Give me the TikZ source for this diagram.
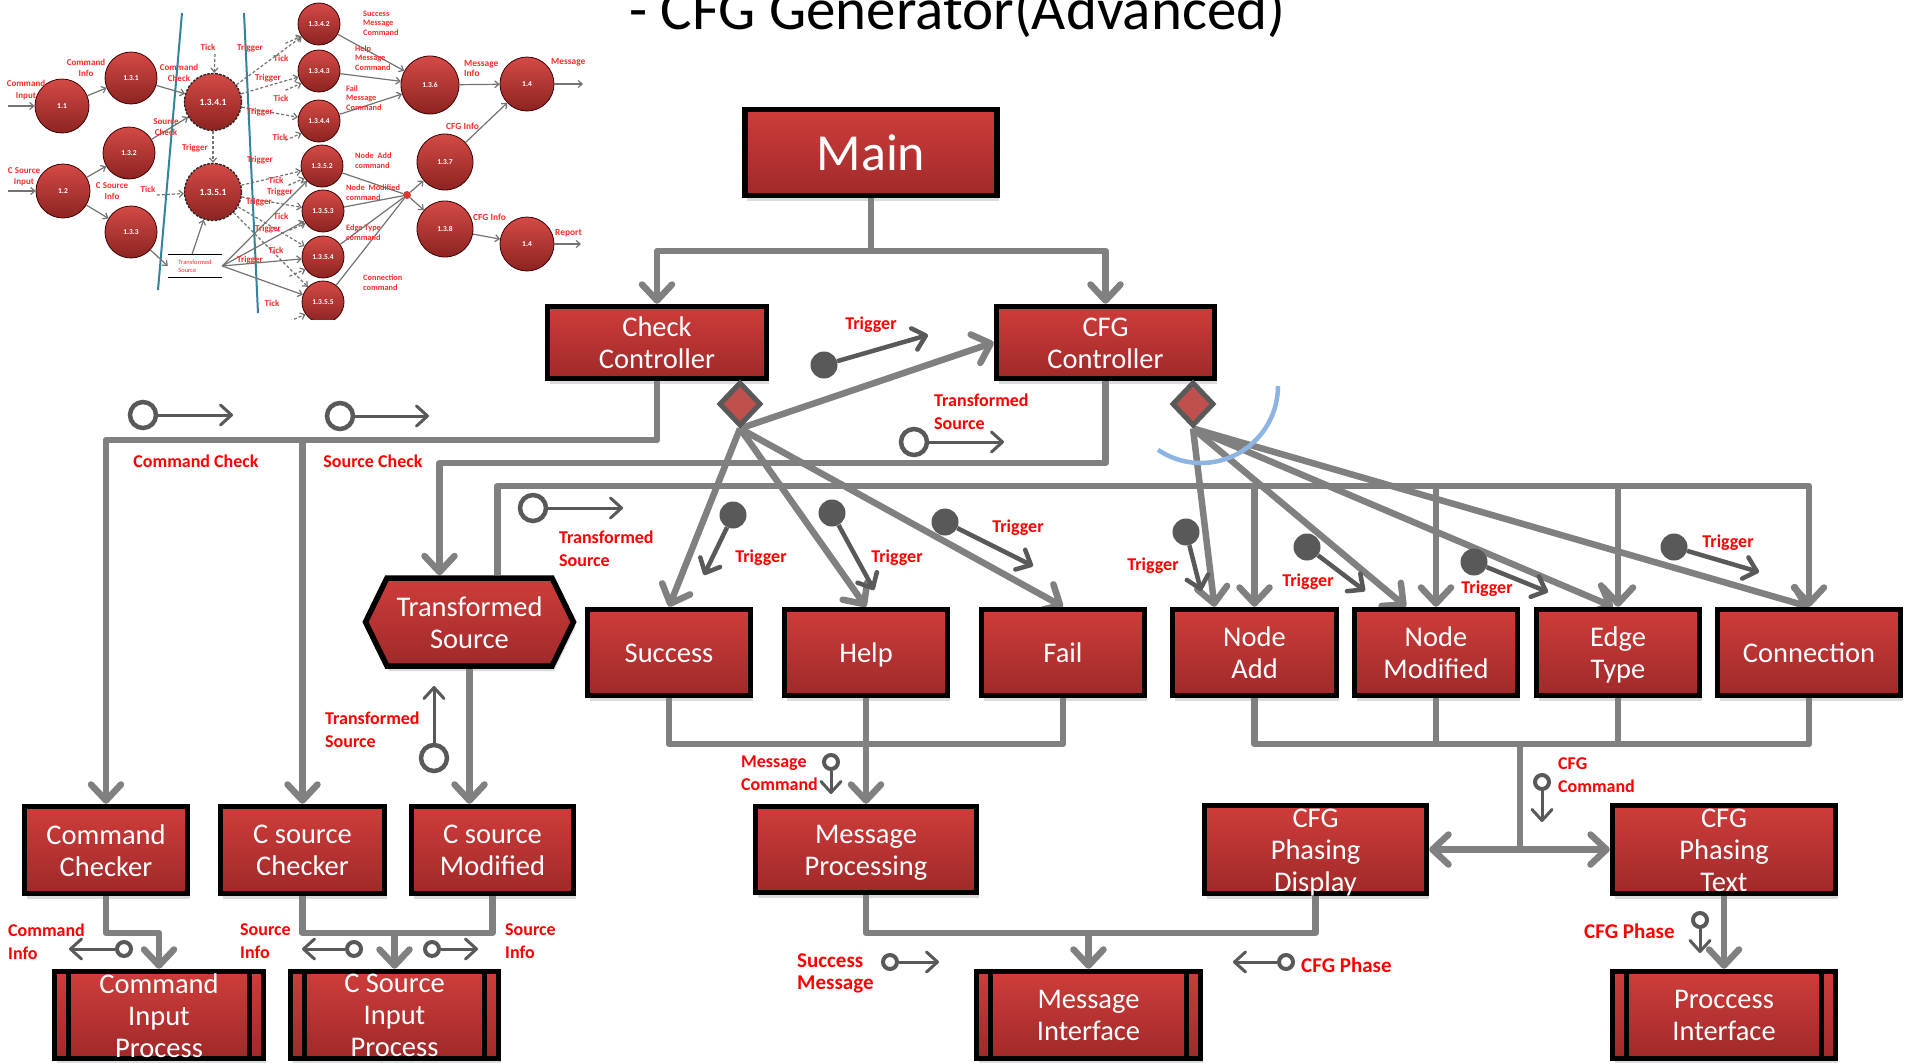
\documentclass[tikz,border=0pt]{standalone}
\usepackage{fontspec}
\setmainfont{Carlito}
\usetikzlibrary{arrows.meta,shapes.geometric,shapes.symbols,shadows}
\pgfdeclarelayer{background}
\pgfsetlayers{background,main}

\definecolor{boxtop}{HTML}{CE3D3A}
\definecolor{boxbot}{HTML}{A0292A}
\definecolor{linegray}{HTML}{808080}
\definecolor{flowgray}{HTML}{595959}
\definecolor{lblred}{HTML}{FF0000}
\definecolor{dmdfill}{HTML}{C0504D}
\definecolor{arcblue}{HTML}{8DB4E2}
\definecolor{insetteal}{HTML}{31849B}
\definecolor{insetred}{HTML}{FF2B2B}
\definecolor{balltop}{HTML}{D44A46}
\definecolor{ballbot}{HTML}{8C2321}

\tikzset{
  box/.style={draw=black, line width=5.5pt, top color=boxtop, bottom color=boxbot, inner sep=0pt,
    drop shadow={opacity=0.28, shadow xshift=2pt, shadow yshift=-5pt}},
  btxtbase/.style={text=white, font=\fontsize{28.5}{32}\selectfont, align=center, inner sep=0pt},
  % every box caption gets the same depth, so lines sit alike with or without descenders
  btxt/.style={btxtbase, execute at end node={\vphantom{g}}, yshift=-3pt},
  conn/.style={draw=linegray, line width=6.5pt, line join=round},
  arr/.style={-{Straight Barb[length=16pt,width=30pt,round]}},
  dmd/.style={diamond, draw=flowgray, line width=5pt, fill=dmdfill, minimum width=42pt, minimum height=44pt, inner sep=0pt},
  ocirc/.style={circle, draw=flowgray, line width=4.5pt, fill=white, minimum size=26pt, inner sep=0pt},
  scirc/.style={circle, draw=flowgray, line width=4pt, fill=white, minimum size=14pt, inner sep=0pt},
  fcirc/.style={circle, fill=flowgray, minimum size=27pt, inner sep=0pt},
  flow/.style={draw=flowgray, line width=3pt, -{Straight Barb[length=11pt,width=20pt,round]}},
  flowt/.style={draw=flowgray, line width=4.5pt, -{Straight Barb[length=12pt,width=22pt,round]}},
  lbl/.style={text=lblred, font=\bfseries\fontsize{18}{23}\selectfont, inner sep=0pt, align=left},
  lblbig/.style={lbl, font=\bfseries\fontsize{21}{22}\selectfont},
  % small data-flow sketch
  ic/.style={circle, draw=black!75!red, line width=0.8pt, top color=balltop, bottom color=ballbot,
    text=white, font=\bfseries\fontsize{7.5}{8}\selectfont, inner sep=0pt},
  icd/.style={ic, draw=black!85, line width=1.4pt, dash pattern=on 2.5pt off 1.5pt, font=\bfseries\fontsize{9.5}{10}\selectfont},
  ia/.style={draw=black!55, line width=1.2pt, -{Straight Barb[length=4pt,width=7pt]}},
  iad/.style={ia, dash pattern=on 3pt off 2pt},
  ipl/.style={draw=black!55, line width=1.2pt},
  ilbl/.style={text=insetred, font=\bfseries\fontsize{9}{11.5}\selectfont, inner sep=0pt, align=center},
  irl/.style={text=insetred, font=\bfseries\fontsize{8.3}{9.4}\selectfont, inner sep=0pt, align=left, anchor=west},
}

\begin{document}
\begin{tikzpicture}[x=1pt, y=-1pt]
\useasboundingbox (0,0) rectangle (1907,1063);
\begin{pgfonlayer}{background}
  \fill[white] (0,0) rectangle (1907,1063);
\end{pgfonlayer}

% ---------- title ----------
\node[anchor=base west, font=\fontsize{59}{60}\selectfont, inner sep=0pt] (title) at (629,29) {- CFG Generator(Advanced)};

% ---------- small data-flow sketch ----------
\begin{scope}
  \clip (0,0) rectangle (592,319);
  \draw[insetteal, line width=2pt] (182,13) -- (158,290);
  \draw[insetteal, line width=2pt] (244,13) -- (258,313);

  \node[ic, minimum size=54pt] (c11) at (62,106) {1.1};
  \node[ic, minimum size=52pt] (c131) at (131,78) {1.3.1};
  \node[ic, minimum size=52pt] (c132) at (129,153) {1.3.2};
  \node[ic, minimum size=54pt] (c12) at (63,191) {1.2};
  \node[ic, minimum size=52pt] (c133) at (131,232) {1.3.3};
  \node[icd, minimum size=57pt] (c1341) at (213,102) {1.3.4.1};
  \node[icd, minimum size=57pt] (c1351) at (213,192) {1.3.5.1};
  \node[ic, minimum size=42pt] (c1342) at (319,24) {1.3.4.2};
  \node[ic, minimum size=42pt] (c1343) at (319,71) {1.3.4.3};
  \node[ic, minimum size=42pt] (c1344) at (319,121) {1.3.4.4};
  \node[ic, minimum size=42pt] (c1352) at (322,166) {1.3.5.2};
  \node[ic, minimum size=42pt] (c1353) at (323,211) {1.3.5.3};
  \node[ic, minimum size=42pt] (c1354) at (323,257) {1.3.5.4};
  \node[ic, minimum size=42pt] (c1355) at (323,302) {1.3.5.5};
  \node[ic, minimum size=58pt] (c136) at (430,85) {1.3.6};
  \node[ic, minimum size=56pt] (c137) at (445,162) {1.3.7};
  \node[ic, minimum size=56pt] (c138) at (445,229) {1.3.8};
  \node[ic, minimum size=54pt] (c14a) at (527,84) {1.4};
  \node[ic, minimum size=54pt] (c14b) at (527,244) {1.4};
  \node[circle, fill=boxtop, minimum size=8pt, inner sep=0pt] (jd) at (407,195) {};
  \node[minimum width=54pt, minimum height=23pt, inner sep=0pt, text=insetred, align=left,
        font=\fontsize{6.5}{8}\selectfont] (store) at (195,266) {Transformed\\Source};
  \draw[black, line width=1pt] (store.north west) -- (store.north east);
  \draw[black, line width=1pt] (store.south west) -- (store.south east);

  \coordinate (in1) at (8,106);
  \coordinate (in2) at (8,191);
  \draw[ia] (in1) -- (c11);
  \draw[ia] (in2) -- (c12);
  \draw[ia] (c11) -- (c131);
  \draw[ia] (c12) -- (c132);
  \draw[ia] (c12) -- (c133);
  \draw[ia] (c131) -- (c1341);
  \draw[ia] (c132) -- (c1341);
  \draw[ia] (c133) -- (store.west);
  \draw[ia] ([xshift=-3pt]store.north) -- (c1351);
  \foreach \c in {c1352,c1353,c1354,c1355} \draw[ia] (store.east) -- (\c);
  \foreach \c in {c1342,c1343,c1344} \draw[ia] (\c) -- (c136);
  \foreach \c in {c1352,c1353,c1354,c1355} \draw[ipl] (\c) -- (jd);
  \draw[ia] (jd) -- (c137);
  \draw[ia] (jd) -- (c138);
  \draw[ia] (c136) -- (c14a);
  \draw[ia] (c137) -- (c14a);
  \draw[ia] (c138) -- (c14b);
  \coordinate (out1) at (583,84);
  \coordinate (out2) at (581,244);
  \draw[ia] (c14a) -- (out1);
  \draw[ia] (c14b) -- (out2);

  \coordinate (tk1) at (215,54);
  \coordinate (tk2) at (157,195);
  \draw[iad] (tk1) -- (c1341);
  \draw[iad] (c1341) -- (c1351);
  \draw[iad] (tk2) -- (c1351);
  \foreach \c in {c1342,c1343,c1344} \draw[iad] (c1341) -- (\c);
  \foreach \c in {c1352,c1353,c1354,c1355} \draw[iad] (c1351) -- (\c);
  \foreach \c in {c1342,c1343,c1344,c1352,c1353,c1354,c1355}
    \draw[iad] ([shift={(-16,7)}]\c.215) -- (\c.215);

  \node[ilbl] (il1) at (26,90) {Command\\Input};
  \node[ilbl] (il2) at (86,68) {Command\\Info};
  \node[ilbl] (il3) at (179,73) {Command\\Check};
  \node[ilbl] (il4) at (166,127) {Source\\Check};
  \node[ilbl] (il5) at (24,177) {C Source\\Input};
  \node[ilbl] (il6) at (112,191) {C Source\\Info};
  \node[ilbl] (il7) at (208,47) {Tick};
  \node[ilbl] (il8) at (195,148) {Trigger};
  \node[ilbl] (il9) at (148,189) {Tick};
  \node[ilbl] (im1) at (250,48) {Trigger};
  \node[ilbl] (im2) at (281,58) {Tick};
  \node[ilbl] (im3) at (268,78) {Trigger};
  \node[ilbl] (im4) at (281,98) {Tick};
  \node[ilbl] (im5) at (260,112) {Trigger};
  \node[ilbl] (im6) at (280,137) {Tick};
  \node[ilbl] (im7) at (260,160) {Trigger};
  \node[ilbl] (im8) at (276,180) {Tick};
  \node[ilbl] (im9) at (280,192) {Trigger};
  \node[ilbl] (im10) at (259,202) {Trigger};
  \node[ilbl] (im11) at (281,216) {Tick};
  \node[ilbl] (im12) at (268,229) {Trigger};
  \node[ilbl] (im13) at (276,250) {Tick};
  \node[ilbl] (im14) at (250,260) {Trigger};
  \node[ilbl] (im15) at (272,303) {Tick};
  \node[irl] (ir1) at (363,23) {Success\\Message\\Command};
  \node[irl] (ir2) at (355,58) {Help\\Message\\Command};
  \node[irl] (ir3) at (346,98) {Fail\\Message\\Command};
  \node[irl] (ir4) at (355,160.5) {Node~ Add\\command};
  \node[irl] (ir5) at (346,192.5) {Node~ Modified\\command};
  \node[irl] (ir6) at (346,232.5) {Edge Type\\command};
  \node[irl] (ir7) at (363,282.5) {Connection\\command};
  \node[irl, font=\bfseries\fontsize{9.4}{9.5}\selectfont] (ir8) at (464,68.5) {Message\\Info};
  \node[irl, font=\bfseries\fontsize{9.4}{9.5}\selectfont] (ir9) at (446,126) {CFG Info};
  \node[irl, font=\bfseries\fontsize{9.4}{9.5}\selectfont] (ir10) at (473,217) {CFG Info};
  \node[irl, font=\bfseries\fontsize{9.4}{9.5}\selectfont] (ir11) at (551,62) {Message};
  \node[irl, font=\bfseries\fontsize{9.4}{9.5}\selectfont] (ir12) at (555,233) {Report};
\end{scope}

% ---------- process boxes ----------
\node[box, minimum width=252pt, minimum height=86pt] (main) at (871,152.5) {};
\node[btxtbase, font=\fontsize{52}{56}\selectfont] (maint) at (main) {Main};
\node[box, minimum width=219pt, minimum height=72pt] (chk) at (657,342.5) {};
\node[btxt] (chkt) at (chk) {Check\\Controller};
\node[box, minimum width=218pt, minimum height=72pt] (cfg) at (1105.5,342.5) {};
\node[btxt] (cfgt) at (cfg) {CFG\\Controller};
\node[box, signal, signal to=west and east, signal pointer angle=128, minimum width=208pt, minimum height=88pt] (ts) at (469.5,622) {};
\node[btxt] (tst) at (ts) {Transformed\\Source};

\node[box, minimum width=163pt, minimum height=86pt] (success) at (669,652.5) {};
\node[btxt] (successt) at (success) {Success};
\node[box, minimum width=163pt, minimum height=86pt] (help) at (866,652.5) {};
\node[btxt] (helpt) at (help) {Help};
\node[box, minimum width=163pt, minimum height=86pt] (fail) at (1063,652.5) {};
\node[btxt] (failt) at (fail) {Fail};
\node[box, minimum width=164pt, minimum height=86pt] (nodeadd) at (1254.5,652.5) {};
\node[btxt] (nodeaddt) at (nodeadd) {Node\\Add};
\node[box, minimum width=163pt, minimum height=86pt] (nodemod) at (1436,652.5) {};
\node[btxt] (nodemodt) at (nodemod) {Node\\Modified};
\node[box, minimum width=163pt, minimum height=86pt] (edge) at (1618,652.5) {};
\node[btxt] (edget) at (edge) {Edge\\Type};
\node[box, minimum width=183pt, minimum height=86pt] (conn) at (1809,652.5) {};
\node[btxt] (connt) at (conn) {Connection};

\node[box, minimum width=163pt, minimum height=87pt] (cmdchk) at (106,850) {};
\node[btxt] (cmdchkt) at (cmdchk) {Command\\Checker};
\node[box, minimum width=164pt, minimum height=87pt] (csrcchk) at (302.5,850) {};
\node[btxt] (csrcchkt) at (csrcchk) {C source\\Checker};
\node[box, minimum width=162pt, minimum height=87pt] (csrcmod) at (492.5,850) {};
\node[btxt] (csrcmodt) at (csrcmod) {C source\\Modified};
\node[box, minimum width=221pt, minimum height=86pt] (msgproc) at (866,849.5) {};
\node[btxt] (msgproct) at (msgproc) {Message\\Processing};
\node[box, minimum width=222pt, minimum height=88pt] (phdisp) at (1315.5,849.5) {};
\node[btxt] (phdispt) at (phdisp) {CFG\\Phasing\\Display};
\node[box, minimum width=223pt, minimum height=88pt] (phtext) at (1724,849.5) {};
\node[btxt] (phtextt) at (phtext) {CFG\\Phasing\\Text};

\node[box, minimum width=209pt, minimum height=87pt] (cip) at (159,1015) {};
\node[box, minimum width=208pt, minimum height=87pt] (csip) at (394.5,1015) {};
\node[box, minimum width=224pt, minimum height=87pt] (msgif) at (1088.5,1015) {};
\node[box, minimum width=223pt, minimum height=87pt] (procif) at (1724,1015) {};
\foreach \b in {cip,csip,msgif,procif}{
  \draw[line width=5pt] ([xshift=17pt]\b.north west) -- ([xshift=17pt]\b.south west);
  \draw[line width=5pt] ([xshift=-17pt]\b.north east) -- ([xshift=-17pt]\b.south east);
}
\node[btxt] (cipt) at (cip) {Command\\Input\\Process};
\node[btxt] (csipt) at (csip) {C Source\\Input\\Process};
\node[btxt] (msgift) at (msgif) {Message\\Interface};
\node[btxt] (procift) at (procif) {Proccess\\Interface};

% decision points under the controllers
\node[dmd] (dk) at (740,404) {};
\node[dmd] (dc) at (1193,404) {};

% ---------- control connectors ----------
\begin{pgfonlayer}{background}
  \coordinate (mj) at (871,251);
  \draw[conn,arr] (main.south) -- (mj) -| (chk.north);
  \draw[conn,arr] (mj) -| (cfg.north);

  \coordinate (j1) at (657,440);
  \draw[conn,arr] (chk.south) -- (j1) -| (cmdchk.north);
  \draw[conn,arr] (csrcchk.north |- j1) -- (csrcchk.north);

  \coordinate (j2) at (1105.5,463);
  \draw[conn,arr] (cfg.south) -- (j2) -| ([xshift=-30pt]ts.north);

  \coordinate (j3) at (1809,486);
  \draw[conn,arr] ([xshift=28pt]ts.north) |- (j3) -- (conn.north);
  \foreach \n in {nodeadd,nodemod,edge} \draw[conn,arr] (\n.north |- j3) -- (\n.north);

  \draw[conn,arr] (dk.south) -- (cfg.west);
  \draw[conn,arr] (dk.south) -- (success.north);
  \draw[conn,arr] (dk.south) -- (help.north);
  \draw[conn,arr] (dk.south) -- (fail.north);
  \draw[conn,arr] (dc.south) -- ([xshift=-40pt]nodeadd.north);
  \draw[conn,arr] (dc.south) -- ([xshift=-30pt]nodemod.north);
  \draw[conn,arr] (dc.south) -- ([xshift=-5pt]edge.north);
  \draw[conn,arr] (dc.south) -- (conn.north);

  \coordinate (j4) at (866,744);
  \draw[conn] (success.south) |- (j4) -| (fail.south);
  \draw[conn,arr] (help.south) -- (msgproc.north);

  \coordinate (j5) at (1520,744);
  \coordinate (j6) at (1520,849.5);
  \draw[conn] (nodeadd.south) |- (j5) -| (conn.south);
  \draw[conn] (nodemod.south) -- (nodemod.south |- j5);
  \draw[conn] (edge.south) -- (edge.south |- j5);
  \draw[conn,arr] (j5) -- (j6) -- (phdisp.east);
  \draw[conn,arr] (j6) -- (phtext.west);

  \coordinate (j7) at (159,933);
  \draw[conn,arr] (cmdchk.south) |- (j7) -- (cip.north);
  \coordinate (j8) at (394.5,933);
  \draw[conn] (csrcchk.south) |- (j8) -| (csrcmod.south);
  \draw[conn,arr] (j8) -- (csip.north);
  \draw[conn,arr] (ts.south) -- ([xshift=-23pt]csrcmod.north);

  \coordinate (j9) at (1088.5,933);
  \draw[conn] (msgproc.south) |- (j9) -| (phdisp.south);
  \draw[conn,arr] (j9) -- (msgif.north);
  \draw[conn,arr] (phtext.south) -- (procif.north);
\end{pgfonlayer}

% ---------- data and trigger flows ----------
\node[ocirc] (fc1) at (143,415) {};   \coordinate (fe1) at (233,415);  \draw[flow] (fc1) -- (fe1);
\node[ocirc] (fc2) at (340,416) {};   \coordinate (fe2) at (429,416);  \draw[flow] (fc2) -- (fe2);
\node[ocirc] (fc3) at (533,508) {};   \coordinate (fe3) at (623,508);  \draw[flow] (fc3) -- (fe3);
\node[ocirc] (fc4) at (434,758) {};   \coordinate (fe4) at (434,686);  \draw[flow] (fc4) -- (fe4);
\node[ocirc] (fc5) at (914,442) {};   \coordinate (fe5) at (1004,442); \draw[flow] (fc5) -- (fe5);

\node[fcirc] (ft1) at (824,365) {};   \coordinate (te1) at (928,335);  \draw[flowt] (ft1) -- (te1);
\node[fcirc] (ft2) at (733,515) {};   \coordinate (te2) at (704,575);  \draw[flowt] (ft2) -- (te2);
\node[fcirc] (ft3) at (832,513) {};   \coordinate (te3) at (874,590);  \draw[flowt] (ft3) -- (te3);
\node[fcirc] (ft4) at (945,522) {};   \coordinate (te4) at (1033,566); \draw[flowt] (ft4) -- (te4);
\node[fcirc] (ft5) at (1186,532) {};  \coordinate (te5) at (1201,591); \draw[flowt] (ft5) -- (te5);
\node[fcirc] (ft6) at (1307,547) {};  \coordinate (te6) at (1365,591); \draw[flowt] (ft6) -- (te6);
\node[fcirc] (ft7) at (1474,562) {};  \coordinate (te7) at (1548,592); \draw[flowt] (ft7) -- (te7);
\node[fcirc] (ft8) at (1674,547) {};  \coordinate (te8) at (1759,572); \draw[flowt] (ft8) -- (te8);

\node[scirc] (sc1) at (831,762) {};   \coordinate (se1) at (831,794);  \draw[flow] (sc1) -- (se1);
\node[scirc] (sc2) at (890,962) {};   \coordinate (se2) at (939,962);  \draw[flow] (sc2) -- (se2);
\node[scirc] (sc3) at (1286,962) {};  \coordinate (se3) at (1233,962); \draw[flow] (sc3) -- (se3);
\node[scirc] (sc4) at (1542,782) {};  \coordinate (se4) at (1542,822); \draw[flow] (sc4) -- (se4);
\node[scirc] (sc5) at (1700,920) {};  \coordinate (se5) at (1700,953); \draw[flow] (sc5) -- (se5);
\node[scirc] (sc6) at (124,949) {};   \coordinate (se6) at (69,949);   \draw[flow] (sc6) -- (se6);
\node[scirc] (sc7) at (354,949) {};   \coordinate (se7) at (302,949);  \draw[flow] (sc7) -- (se7);
\node[scirc] (sc8) at (432,949) {};   \coordinate (se8) at (478,949);  \draw[flow] (sc8) -- (se8);

% ---------- flow labels ----------
\node[lbl] (l1) at (196,461) {Command Check};
\node[lbl] (l2) at (373,461) {Source Check};
\node[lbl, anchor=west] (l3) at (559,548.5) {Transformed\\Source};
\node[lbl, anchor=west] (l4) at (325,729.5) {Transformed\\Source};
\node[lbl] (l5) at (871,325) {Trigger};
\node[lbl, anchor=west] (l6) at (934,411.5) {Transformed\\Source};
\node[lbl] (l7) at (761,558) {Trigger};
\node[lbl] (l8) at (897,558) {Trigger};
\node[lbl] (l9) at (1018,528) {Trigger};
\node[lbl] (l10) at (1153,566) {Trigger};
\node[lbl] (l11) at (1308,582) {Trigger};
\node[lbl] (l12) at (1487,589) {Trigger};
\node[lbl] (l13) at (1728,543) {Trigger};
\node[lbl, anchor=west] (l14) at (741,773) {Message\\Command};
\node[lblbig, anchor=west] (l15) at (797,973) {Success\\Message};
\node[lblbig, anchor=west] (l16) at (1301,965) {CFG Phase};
\node[lbl, anchor=west] (l17) at (1558,775) {CFG\\Command};
\node[lblbig, anchor=west] (l18) at (1584,931) {CFG Phase};
\node[lbl, anchor=west] (l19) at (8,941.5) {Command\\Info};
\node[lbl, anchor=west] (l20) at (240,941.5) {Source\\Info};
\node[lbl, anchor=west] (l21) at (505,941.5) {Source\\Info};

% selection arc around the CFG decision fan
\draw[arcblue, line width=4.5pt] (1201,386) ++(124:77) arc[start angle=124, end angle=0, radius=77];
\end{tikzpicture}
\end{document}
